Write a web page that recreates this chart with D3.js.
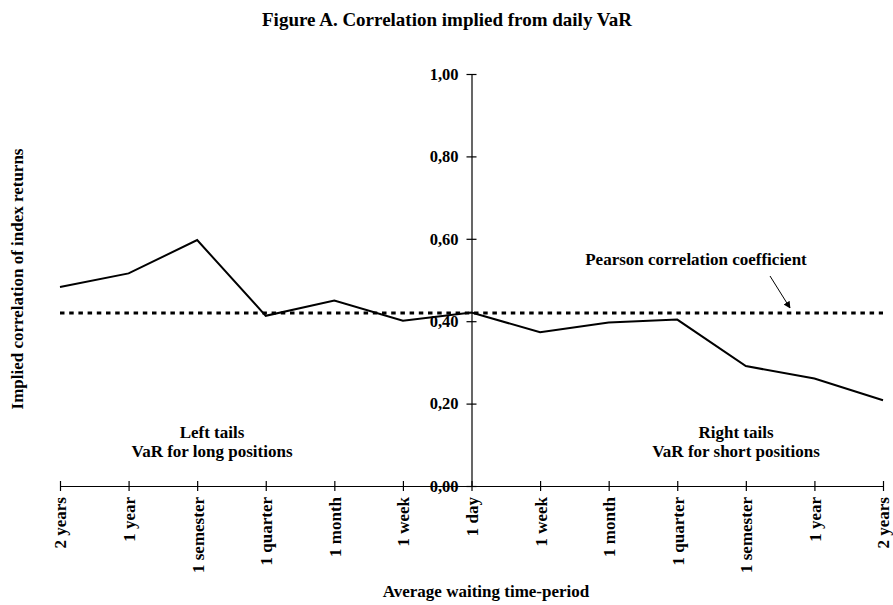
<!DOCTYPE html>
<html>
<head>
<meta charset="utf-8">
<script src="https://cdn.jsdelivr.net/npm/d3@7"></script>
<style>
  body { margin: 0; background: #fff; }
  svg text { font-family: "Liberation Serif", "Times New Roman", serif; font-weight: bold; fill: #000; }
</style>
</head>
<body>
<svg id="chart" width="893" height="605"></svg>
<script>
// ---- data ----
const categories = ["2 years", "1 year", "1 semester", "1 quarter", "1 month", "1 week", "1 day",
                    "1 week", "1 month", "1 quarter", "1 semester", "1 year", "2 years"];
const impliedCorrelation = [0.483, 0.516, 0.597, 0.413, 0.450, 0.401, 0.421,
                            0.373, 0.397, 0.404, 0.291, 0.261, 0.208];
const pearson = 0.42;
const yTicks = [0, 0.2, 0.4, 0.6, 0.8, 1.0];

// ---- layout ----
const svg = d3.select("#chart");
const mLeft = 60, mRight = 883, mTop = 74, mBottom = 486;

const x = d3.scalePoint().domain(d3.range(categories.length)).range([mLeft, mRight]);
const y = d3.scaleLinear().domain([0, 1]).range([mBottom, mTop]);
const axisX = x(6);

// title
svg.append("text").attr("x", 447).attr("y", 26).attr("text-anchor", "middle")
  .style("font-size", "19px").text("Figure A. Correlation implied from daily VaR");

// x axis
const gx = svg.append("g").attr("transform", `translate(0,${mBottom})`)
  .call(d3.axisBottom(x).tickFormat(i => categories[i]).tickSize(5).tickSizeOuter(0));
gx.select(".domain").attr("stroke", "#000").attr("stroke-width", 1.2);
gx.selectAll(".tick line").attr("y1", -5).attr("y2", 5).attr("stroke", "#000").attr("stroke-width", 1.2);
gx.selectAll(".tick text")
  .attr("transform", "rotate(-90)")
  .attr("x", -11).attr("y", 0).attr("dy", "0.35em")
  .attr("text-anchor", "end")
  .style("font-size", "17px").style("font-family", "Liberation Serif, serif").style("font-weight", "bold");

// y axis
const fmt = v => d3.format(".2f")(v).replace(".", ",");
const gy = svg.append("g").attr("transform", `translate(${axisX},0)`)
  .call(d3.axisLeft(y).tickValues(yTicks).tickFormat(fmt).tickSize(5).tickSizeOuter(0));
gy.select(".domain").attr("stroke", "#000").attr("stroke-width", 1.2);
gy.selectAll(".tick line").attr("x1", -5).attr("x2", 5).attr("stroke", "#000").attr("stroke-width", 1.2);
gy.selectAll(".tick text").attr("x", -13)
  .style("font-size", "16.5px").style("font-family", "Liberation Serif, serif").style("font-weight", "bold");

// pearson dotted line
svg.append("line")
  .attr("x1", x(0)).attr("x2", x(categories.length - 1))
  .attr("y1", y(pearson)).attr("y2", y(pearson))
  .attr("stroke", "#000").attr("stroke-width", 3).attr("stroke-dasharray", "4.5,4.7");

// series line
svg.append("path")
  .datum(impliedCorrelation)
  .attr("fill", "none").attr("stroke", "#000").attr("stroke-width", 2)
  .attr("d", d3.line().x((d, i) => x(i)).y(d => y(d)));

// annotations
svg.append("text").attr("x", 696).attr("y", 265).attr("text-anchor", "middle")
  .style("font-size", "17px").text("Pearson correlation coefficient");

svg.append("defs").append("marker").attr("id", "arr")
  .attr("viewBox", "0 0 10 10").attr("refX", 9).attr("refY", 5)
  .attr("markerWidth", 7).attr("markerHeight", 7).attr("orient", "auto")
  .append("path").attr("d", "M0,0 L10,5 L0,10 z").attr("fill", "#000");
svg.append("line").attr("x1", 770).attr("y1", 276).attr("x2", 790).attr("y2", 308)
  .attr("stroke", "#000").attr("stroke-width", 1).attr("marker-end", "url(#arr)");

svg.append("text").attr("x", 212).attr("y", 438).attr("text-anchor", "middle")
  .style("font-size", "17px").text("Left tails");
svg.append("text").attr("x", 212).attr("y", 457).attr("text-anchor", "middle")
  .style("font-size", "17px").text("VaR for long positions");
svg.append("text").attr("x", 736).attr("y", 438).attr("text-anchor", "middle")
  .style("font-size", "17px").text("Right tails");
svg.append("text").attr("x", 736).attr("y", 457).attr("text-anchor", "middle")
  .style("font-size", "17px").text("VaR for short positions");

// axis titles
svg.append("text").attr("x", 486).attr("y", 597).attr("text-anchor", "middle")
  .style("font-size", "17px").text("Average waiting time-period");
svg.append("text").attr("transform", "translate(23,279) rotate(-90)").attr("text-anchor", "middle")
  .style("font-size", "17px").text("Implied correlation of index returns");
</script>
</body>
</html>
